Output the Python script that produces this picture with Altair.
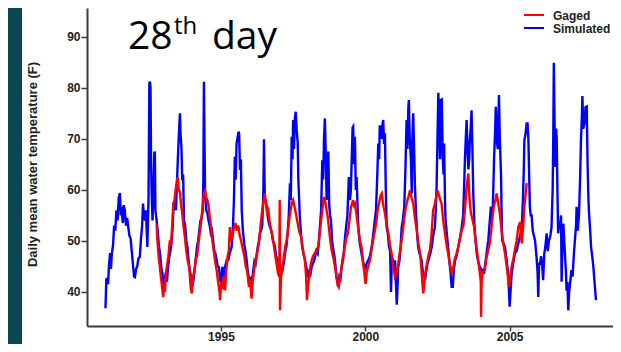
import altair as alt
import pandas as pd

# ---------------- data (decimal year, deg F) ----------------
SIMULATED = [
    (1991.00, 36.8), (1991.03, 42.5), (1991.06, 42.6), (1991.09, 41.5), (1991.12, 45.0),
    (1991.16, 47.6), (1991.19, 44.5), (1991.22, 47.5), (1991.26, 49.0), (1991.30, 53.0),
    (1991.34, 52.0), (1991.38, 56.0), (1991.42, 54.0), (1991.46, 58.5), (1991.50, 59.4),
    (1991.53, 55.0), (1991.56, 56.7), (1991.60, 53.5), (1991.63, 57.0), (1991.67, 56.0),
    (1991.71, 53.0), (1991.75, 54.5), (1991.79, 52.7), (1991.83, 51.0), (1991.87, 50.5),
    (1991.91, 48.0), (1991.95, 45.5), (1991.99, 43.0), (1992.02, 42.9), (1992.06, 44.5),
    (1992.10, 45.0), (1992.14, 46.5), (1992.19, 46.9), (1992.23, 50.5), (1992.27, 53.0),
    (1992.30, 57.3), (1992.33, 55.0), (1992.37, 54.0), (1992.40, 56.0), (1992.45, 48.8),
    (1992.49, 58.0), (1992.52, 80.9), (1992.54, 81.2), (1992.56, 80.0), (1992.58, 65.0),
    (1992.60, 59.3), (1992.63, 54.0), (1992.66, 59.3), (1992.69, 67.2), (1992.71, 67.5),
    (1992.73, 56.0), (1992.77, 54.1), (1992.81, 52.0), (1992.85, 49.0), (1992.89, 47.6),
    (1992.93, 45.0), (1992.97, 43.7), (1993.01, 40.5), (1993.05, 42.5), (1993.09, 43.7),
    (1993.13, 42.0), (1993.17, 45.0), (1993.21, 46.9), (1993.25, 48.0), (1993.29, 50.0),
    (1993.33, 53.0), (1993.36, 57.3), (1993.40, 58.0), (1993.44, 56.0), (1993.48, 62.0),
    (1993.52, 68.0), (1993.56, 73.0), (1993.58, 75.0), (1993.60, 71.0), (1993.63, 68.4),
    (1993.66, 61.9), (1993.69, 63.0), (1993.72, 54.0), (1993.76, 53.0), (1993.80, 50.0),
    (1993.84, 48.8), (1993.88, 46.0), (1993.92, 44.3), (1993.96, 43.0), (1994.00, 41.0),
    (1994.04, 42.0), (1994.08, 44.0), (1994.12, 46.0), (1994.17, 48.8), (1994.21, 50.0),
    (1994.25, 52.0), (1994.29, 54.0), (1994.33, 54.5), (1994.37, 56.0), (1994.39, 62.0),
    (1994.41, 81.2), (1994.43, 70.0), (1994.45, 59.3), (1994.49, 56.0), (1994.53, 55.4),
    (1994.57, 54.0), (1994.61, 53.0), (1994.65, 51.5), (1994.69, 52.0), (1994.73, 50.0),
    (1994.77, 48.0), (1994.81, 47.5), (1994.85, 46.2), (1994.89, 45.0), (1994.93, 44.9),
    (1994.97, 42.5), (1995.01, 41.5), (1995.05, 44.9), (1995.09, 43.0), (1995.14, 44.9),
    (1995.20, 46.2), (1995.25, 46.2), (1995.30, 47.5), (1995.37, 48.8), (1995.41, 52.0),
    (1995.45, 58.0), (1995.48, 66.5), (1995.51, 62.0), (1995.54, 69.0), (1995.58, 70.4),
    (1995.61, 71.4), (1995.63, 71.0), (1995.66, 63.9), (1995.69, 66.0), (1995.72, 56.0),
    (1995.76, 52.0), (1995.81, 49.2), (1995.85, 48.0), (1995.89, 46.2), (1995.93, 44.0),
    (1995.97, 42.5), (1996.00, 41.0), (1996.04, 43.0), (1996.08, 42.0), (1996.12, 44.3),
    (1996.16, 46.0), (1996.20, 45.5), (1996.24, 47.5), (1996.28, 49.0), (1996.32, 50.0),
    (1996.35, 51.5), (1996.39, 52.0), (1996.43, 53.0), (1996.47, 60.0), (1996.49, 69.9),
    (1996.52, 58.0), (1996.55, 58.0), (1996.60, 56.0), (1996.64, 54.1), (1996.68, 53.0),
    (1996.72, 52.5), (1996.76, 51.5), (1996.80, 50.0), (1996.84, 49.5), (1996.87, 48.8),
    (1996.91, 47.0), (1996.95, 46.5), (1996.98, 46.2), (1997.02, 44.5), (1997.06, 45.0),
    (1997.10, 43.6), (1997.14, 44.5), (1997.19, 46.2), (1997.23, 48.0), (1997.27, 49.0),
    (1997.31, 51.5), (1997.35, 55.0), (1997.39, 61.3), (1997.42, 58.0), (1997.45, 70.4),
    (1997.48, 66.0), (1997.50, 73.7), (1997.53, 68.0), (1997.56, 74.0), (1997.59, 75.3),
    (1997.62, 72.0), (1997.66, 69.1), (1997.68, 62.0), (1997.70, 59.3), (1997.73, 55.0),
    (1997.77, 51.5), (1997.81, 49.0), (1997.86, 47.5), (1997.91, 46.2), (1997.95, 45.0),
    (1998.00, 43.5), (1998.02, 42.9), (1998.06, 44.0), (1998.10, 43.5), (1998.14, 44.9),
    (1998.18, 45.5), (1998.22, 46.0), (1998.26, 46.9), (1998.30, 48.0), (1998.35, 47.5),
    (1998.39, 49.5), (1998.43, 53.0), (1998.47, 56.0), (1998.51, 65.8), (1998.54, 62.0),
    (1998.57, 70.0), (1998.60, 74.0), (1998.63, 67.0), (1998.66, 58.0), (1998.69, 65.0),
    (1998.72, 67.5), (1998.75, 57.0), (1998.78, 55.0), (1998.81, 54.1), (1998.85, 50.0),
    (1998.90, 48.0), (1998.95, 46.2), (1999.00, 43.0), (1999.06, 41.0), (1999.10, 43.0),
    (1999.14, 42.5), (1999.18, 44.9), (1999.22, 46.5), (1999.26, 48.0), (1999.30, 50.8),
    (1999.34, 53.0), (1999.38, 55.0), (1999.43, 62.5), (1999.47, 58.0), (1999.50, 60.0),
    (1999.53, 66.0), (1999.56, 72.2), (1999.58, 72.4), (1999.61, 65.0), (1999.64, 70.4),
    (1999.67, 60.0), (1999.70, 62.5), (1999.73, 57.0), (1999.76, 52.7), (1999.80, 50.0),
    (1999.84, 48.5), (1999.87, 47.5), (1999.92, 46.0), (1999.96, 45.0), (1999.99, 44.3),
    (2000.04, 45.5), (2000.10, 46.2), (2000.16, 47.0), (2000.22, 48.8), (2000.27, 51.0),
    (2000.33, 54.1), (2000.37, 56.0), (2000.41, 62.0), (2000.45, 69.1), (2000.48, 66.0),
    (2000.50, 72.4), (2000.54, 72.4), (2000.57, 70.0), (2000.60, 73.0), (2000.62, 73.7),
    (2000.65, 69.0), (2000.68, 71.1), (2000.71, 60.0), (2000.74, 52.7), (2000.78, 51.5),
    (2000.82, 49.0), (2000.86, 48.0), (2000.89, 40.0), (2000.92, 46.9), (2000.96, 46.0),
    (2001.00, 45.5), (2001.03, 46.2), (2001.06, 42.0), (2001.09, 37.5), (2001.12, 41.5),
    (2001.14, 44.9), (2001.18, 46.0), (2001.22, 48.5), (2001.26, 52.7), (2001.30, 54.0),
    (2001.35, 56.7), (2001.39, 64.0), (2001.43, 73.7), (2001.46, 68.0), (2001.49, 76.0),
    (2001.51, 77.6), (2001.54, 70.0), (2001.58, 66.0), (2001.61, 59.3), (2001.63, 70.0),
    (2001.66, 75.0), (2001.69, 68.0), (2001.72, 60.6), (2001.76, 55.0), (2001.80, 51.0),
    (2001.83, 48.8), (2001.88, 47.5), (2001.95, 46.2), (2001.99, 44.0), (2002.03, 43.5),
    (2002.07, 42.3), (2002.11, 44.0), (2002.15, 45.5), (2002.20, 46.5), (2002.25, 47.5),
    (2002.30, 48.8), (2002.35, 51.0), (2002.41, 52.7), (2002.44, 56.0), (2002.47, 60.6),
    (2002.50, 70.0), (2002.53, 79.0), (2002.56, 72.0), (2002.59, 66.0), (2002.62, 77.6),
    (2002.65, 77.7), (2002.68, 67.0), (2002.71, 63.0), (2002.73, 69.1), (2002.76, 58.0),
    (2002.78, 54.1), (2002.83, 51.0), (2002.87, 48.8), (2002.91, 46.0), (2002.95, 44.0),
    (2002.99, 41.0), (2003.03, 41.0), (2003.07, 44.5), (2003.11, 46.2), (2003.16, 47.0),
    (2003.22, 48.8), (2003.28, 50.5), (2003.34, 52.7), (2003.39, 55.0), (2003.42, 60.0),
    (2003.45, 65.8), (2003.48, 70.0), (2003.51, 73.7), (2003.54, 68.0), (2003.57, 64.0),
    (2003.60, 66.0), (2003.62, 69.7), (2003.65, 72.0), (2003.68, 75.6), (2003.71, 68.0),
    (2003.74, 59.3), (2003.78, 53.0), (2003.82, 50.0), (2003.86, 47.5), (2003.91, 46.0),
    (2003.96, 45.0), (2004.01, 44.5), (2004.03, 43.6), (2004.07, 44.5), (2004.11, 43.5),
    (2004.14, 44.9), (2004.18, 46.5), (2004.22, 48.5), (2004.26, 50.1), (2004.30, 53.0),
    (2004.35, 56.7), (2004.38, 53.5), (2004.42, 57.0), (2004.46, 66.0), (2004.50, 72.0),
    (2004.52, 76.3), (2004.55, 70.0), (2004.59, 68.0), (2004.61, 74.0), (2004.63, 78.6),
    (2004.66, 70.0), (2004.70, 63.2), (2004.72, 56.0), (2004.74, 50.1), (2004.79, 49.5),
    (2004.84, 48.8), (2004.90, 46.0), (2004.95, 43.6), (2005.00, 37.1), (2005.03, 40.0),
    (2005.07, 43.6), (2005.12, 45.5), (2005.18, 47.5), (2005.24, 48.0), (2005.30, 49.5),
    (2005.36, 51.0), (2005.42, 52.7), (2005.46, 58.0), (2005.49, 64.0), (2005.51, 69.7),
    (2005.55, 71.0), (2005.59, 73.0), (2005.62, 73.0), (2005.65, 69.7), (2005.68, 62.0),
    (2005.70, 56.7), (2005.73, 55.0), (2005.76, 55.0), (2005.80, 52.0), (2005.84, 51.0),
    (2005.88, 50.1), (2005.93, 47.0), (2005.97, 43.6), (2005.99, 39.0), (2006.02, 45.5),
    (2006.05, 45.5), (2006.09, 47.0), (2006.13, 45.0), (2006.16, 42.3), (2006.20, 47.5),
    (2006.24, 49.0), (2006.28, 51.5), (2006.32, 48.0), (2006.36, 50.0), (2006.41, 51.0),
    (2006.45, 52.7), (2006.49, 60.0), (2006.51, 69.7), (2006.53, 84.9), (2006.56, 72.0),
    (2006.58, 64.5), (2006.61, 72.0), (2006.63, 70.0), (2006.66, 58.0), (2006.68, 51.5),
    (2006.71, 53.0), (2006.74, 52.5), (2006.78, 55.0), (2006.80, 42.0), (2006.83, 50.0),
    (2006.86, 53.4), (2006.89, 50.0), (2006.92, 46.9), (2006.95, 44.0), (2006.97, 40.3),
    (2007.00, 42.0), (2007.03, 36.4), (2007.06, 40.0), (2007.10, 42.0), (2007.14, 44.3),
    (2007.18, 43.0), (2007.22, 47.0), (2007.26, 50.1), (2007.30, 53.0), (2007.32, 56.7),
    (2007.36, 52.0), (2007.40, 55.0), (2007.44, 62.0), (2007.47, 69.7), (2007.50, 74.0),
    (2007.52, 78.4), (2007.55, 72.0), (2007.59, 73.0), (2007.63, 76.2), (2007.67, 76.3),
    (2007.70, 65.0), (2007.73, 58.0), (2007.75, 55.4), (2007.79, 52.0), (2007.82, 48.8),
    (2007.86, 47.0), (2007.90, 44.9), (2007.94, 42.0), (2007.99, 38.4),
]

GAGED = [
    (1992.77, 53.4), (1992.80, 50.0), (1992.84, 47.0), (1992.88, 45.0), (1992.92, 42.9),
    (1992.96, 41.0), (1993.00, 39.0), (1993.03, 41.5), (1993.06, 40.0), (1993.10, 44.0),
    (1993.14, 45.5), (1993.18, 47.0), (1993.23, 50.1), (1993.27, 49.0), (1993.31, 53.0),
    (1993.35, 57.3), (1993.39, 58.0), (1993.43, 60.0), (1993.47, 61.5), (1993.50, 62.5),
    (1993.54, 60.0), (1993.58, 59.5), (1993.62, 57.0), (1993.66, 55.4), (1993.70, 53.0),
    (1993.75, 50.8), (1993.80, 48.0), (1993.85, 46.0), (1993.90, 44.9), (1993.95, 41.0),
    (1993.99, 39.7), (1994.03, 43.0), (1994.08, 44.0), (1994.13, 46.5), (1994.17, 47.0),
    (1994.21, 48.8), (1994.25, 51.0), (1994.29, 52.5), (1994.33, 54.7), (1994.37, 57.0),
    (1994.41, 59.3), (1994.45, 59.8), (1994.49, 58.5), (1994.53, 58.0), (1994.57, 57.0),
    (1994.61, 54.7), (1994.65, 53.0), (1994.70, 50.1), (1994.75, 48.0), (1994.80, 46.0),
    (1994.85, 44.3), (1994.90, 42.0), (1994.95, 40.0), (1994.97, 38.4), (1995.01, 42.0),
    (1995.05, 40.5), (1995.10, 43.0), (1995.14, 40.3), (1995.18, 44.0), (1995.23, 47.0),
    (1995.27, 48.0), (1995.31, 52.7), (1995.35, 50.0), (1995.40, 51.0), (1995.45, 52.5),
    (1995.50, 53.5), (1995.55, 52.0), (1995.60, 53.0), (1995.65, 51.0), (1995.70, 50.0),
    (1995.75, 48.5), (1995.81, 47.0), (1995.86, 45.0), (1995.91, 44.0), (1995.96, 41.5),
    (1996.01, 42.0), (1996.06, 38.7), (1996.10, 42.0), (1996.15, 44.5), (1996.20, 46.0),
    (1996.25, 47.5), (1996.29, 48.8), (1996.34, 51.0), (1996.38, 53.5), (1996.43, 56.0),
    (1996.48, 58.0), (1996.52, 59.3), (1996.56, 57.0), (1996.60, 55.5), (1996.64, 56.0),
    (1996.68, 54.0), (1996.72, 52.5), (1996.77, 51.5), (1996.81, 50.0), (1996.86, 48.0),
    (1996.90, 46.5), (1996.94, 45.0), (1996.98, 43.6), (1997.02, 43.0), (1997.035, 58.0),
    (1997.045, 36.4), (1997.08, 43.0), (1997.13, 44.5), (1997.18, 47.0), (1997.23, 49.0),
    (1997.27, 50.0), (1997.31, 51.5), (1997.36, 54.0), (1997.41, 56.0), (1997.46, 57.5),
    (1997.50, 58.0), (1997.54, 57.0), (1997.59, 55.5), (1997.64, 54.0), (1997.69, 52.5),
    (1997.73, 51.5), (1997.77, 51.0), (1997.81, 49.5), (1997.86, 47.5), (1997.91, 46.2),
    (1997.95, 43.0), (1997.98, 38.4), (1998.02, 41.5), (1998.06, 43.0), (1998.10, 45.0),
    (1998.14, 46.2), (1998.19, 47.0), (1998.24, 47.5), (1998.29, 48.0), (1998.33, 48.5),
    (1998.37, 48.8), (1998.42, 51.5), (1998.47, 54.0), (1998.52, 56.5), (1998.55, 58.0),
    (1998.58, 58.6), (1998.62, 57.5), (1998.66, 56.0), (1998.70, 54.7), (1998.75, 52.0),
    (1998.80, 49.5), (1998.84, 48.0), (1998.90, 46.5), (1998.95, 44.9), (1999.00, 43.0),
    (1999.04, 41.5), (1999.08, 41.0), (1999.13, 43.0), (1999.18, 45.0), (1999.23, 46.2),
    (1999.28, 48.5), (1999.34, 50.5), (1999.40, 51.5), (1999.45, 54.0), (1999.50, 56.5),
    (1999.55, 57.5), (1999.58, 58.0), (1999.61, 57.0), (1999.64, 57.3), (1999.70, 55.0),
    (1999.76, 52.2), (1999.82, 50.0), (1999.87, 48.8), (1999.92, 46.0), (1999.97, 43.5),
    (2000.01, 41.6), (2000.05, 44.0), (2000.10, 45.0), (2000.16, 46.2), (2000.21, 48.0),
    (2000.27, 50.1), (2000.33, 52.0), (2000.39, 54.1), (2000.44, 56.5), (2000.50, 58.0),
    (2000.54, 59.0), (2000.57, 59.3), (2000.61, 57.5), (2000.64, 56.5), (2000.68, 55.4),
    (2000.73, 53.5), (2000.80, 51.5), (2000.86, 49.0), (2000.91, 47.5), (2000.97, 45.0),
    (2001.03, 42.9), (2001.08, 43.5), (2001.14, 45.5), (2001.20, 48.0), (2001.26, 50.1),
    (2001.31, 52.5), (2001.37, 55.4), (2001.42, 57.0), (2001.46, 58.0), (2001.51, 59.0),
    (2001.55, 59.9), (2001.60, 58.5), (2001.66, 57.3), (2001.72, 54.5), (2001.78, 52.1),
    (2001.84, 49.5), (2001.90, 47.5), (2001.95, 44.0), (2001.98, 41.5), (2002.01, 39.7),
    (2002.05, 42.0), (2002.10, 44.5), (2002.15, 46.0), (2002.20, 47.5), (2002.24, 48.2),
    (2002.29, 51.0), (2002.35, 56.0), (2002.40, 57.0), (2002.45, 58.5), (2002.50, 59.9),
    (2002.55, 59.0), (2002.60, 58.0), (2002.64, 57.3), (2002.70, 54.0), (2002.76, 51.5),
    (2002.81, 49.5), (2002.87, 47.5), (2002.93, 45.5), (2002.99, 43.6), (2003.04, 44.5),
    (2003.10, 46.5), (2003.16, 47.5), (2003.22, 48.8), (2003.28, 50.5), (2003.34, 52.1),
    (2003.40, 53.0), (2003.45, 56.0), (2003.50, 60.0), (2003.54, 62.0), (2003.57, 63.2),
    (2003.60, 59.0), (2003.63, 57.0), (2003.66, 55.4), (2003.72, 54.0), (2003.77, 52.7),
    (2003.82, 50.0), (2003.87, 48.0), (2003.91, 46.2), (2003.96, 44.0), (2004.00, 42.0),
    (2004.01, 35.1), (2004.03, 42.0), (2004.06, 43.6), (2004.10, 44.0), (2004.14, 44.3),
    (2004.19, 46.5), (2004.25, 48.0), (2004.31, 49.5), (2004.36, 52.0), (2004.41, 55.0),
    (2004.46, 57.0), (2004.51, 58.0), (2004.55, 59.3), (2004.60, 57.5), (2004.66, 55.4),
    (2004.72, 52.0), (2004.78, 49.5), (2004.84, 47.5), (2004.90, 44.9), (2004.95, 42.5),
    (2004.98, 41.0), (2005.02, 43.0), (2005.07, 45.0), (2005.13, 46.5), (2005.18, 48.2),
    (2005.24, 50.0), (2005.30, 52.7), (2005.36, 53.7), (2005.42, 49.5), (2005.47, 53.0),
    (2005.51, 56.7), (2005.55, 59.0), (2005.59, 61.3),
]

X_TICKS = [1995, 2000, 2005]
Y_TICKS = [40, 50, 60, 70, 80, 90]
LEGEND_LABELS = ["Gaged", "Simulated"]
LEGEND_COLORS = ["#FF0000", "#0000FF"]
Y_TITLE = "Daily mean water temperature (F)"

sim_df = pd.DataFrame(SIMULATED, columns=["year", "temp"])
gag_df = pd.DataFrame(GAGED, columns=["year", "temp"])

# ---------------- layout ----------------
W, H = 526, 318
TEAL = "#0A4654"
AXIS_COLOR = "#3C3C3C"

x_scale = alt.Scale(domain=[1990.36, 2008.58], nice=False, zero=False)
y_scale = alt.Scale(domain=[33.33, 95.63], nice=False, zero=False)

x_axis = alt.Axis(values=X_TICKS, format="d", title=None, grid=False,
                  labelFont="Liberation Sans", labelFontWeight="bold", labelFontSize=12,
                  labelColor="#222222", labelPadding=0, tickSize=5, tickWidth=1.5,
                  tickColor=AXIS_COLOR, domainColor=AXIS_COLOR, domainWidth=2, zindex=1)
y_axis = alt.Axis(values=Y_TICKS, title=Y_TITLE, grid=False,
                  labelFont="Liberation Sans", labelFontWeight="bold", labelFontSize=12,
                  labelColor="#222222", labelPadding=1, tickSize=6, tickWidth=1.5,
                  tickColor=AXIS_COLOR, domainColor=AXIS_COLOR, domainWidth=2,
                  titleFont="Liberation Sans", titleFontWeight="bold", titleFontSize=13,
                  titleColor="#222222", titleX=-55, titleY=156, titleBaseline="middle",
                  titleAngle=270, zindex=1)

one = alt.Data(values=[{"k": 1}])

# white page area over the teal background
page = alt.Chart(one).mark_rect(color="white").encode(
    x=alt.value(-65), x2=alt.value(W), y=alt.value(0), y2=alt.value(H + 18)
)

sim_line = alt.Chart(sim_df).mark_line(color="#0000FF", strokeWidth=2.4).encode(
    x=alt.X("year:Q", scale=x_scale, axis=x_axis),
    y=alt.Y("temp:Q", scale=y_scale, axis=y_axis),
)
gag_line = alt.Chart(gag_df).mark_line(color="#FF0000", strokeWidth=2.4).encode(
    x=alt.X("year:Q", scale=x_scale, axis=x_axis),
    y=alt.Y("temp:Q", scale=y_scale, axis=y_axis),
)

# big slide title "28th day"
t_main = alt.Chart(one).mark_text(text="28", font="Open Sans", fontSize=39,
                                  align="left", baseline="alphabetic", color="black").encode(
    x=alt.value(41), y=alt.value(41))
t_sup = alt.Chart(one).mark_text(text="th", font="Open Sans", fontSize=24,
                                 align="left", baseline="alphabetic", color="black").encode(
    x=alt.value(87), y=alt.value(26))
t_day = alt.Chart(one).mark_text(text="day", font="Open Sans", fontSize=39,
                                 align="left", baseline="alphabetic", color="black").encode(
    x=alt.value(125), y=alt.value(41))

# legend (top right)
leg_layers = []
for i, (lab, col) in enumerate(zip(LEGEND_LABELS, LEGEND_COLORS)):
    yy = 7 + i * 13
    leg_layers.append(alt.Chart(one).mark_rule(color=col, strokeWidth=2).encode(
        x=alt.value(437), x2=alt.value(457), y=alt.value(yy)))
    leg_layers.append(alt.Chart(one).mark_text(text=lab, font="Liberation Sans",
                                               fontWeight="bold", fontSize=12,
                                               align="left", baseline="alphabetic",
                                               color="#222222").encode(
        x=alt.value(466), y=alt.value(yy + 4.5)))

chart = alt.layer(page, sim_line, gag_line, t_main, t_sup, t_day, *leg_layers).properties(
    width=W, height=H,
    autosize=alt.AutoSizeParams(type="none"),
    padding={"left": 79, "top": 0, "right": 0, "bottom": 18},
    background=TEAL,
).configure_view(stroke=None)

chart.save("out.html", embed_options={"renderer": "svg", "actions": False})
